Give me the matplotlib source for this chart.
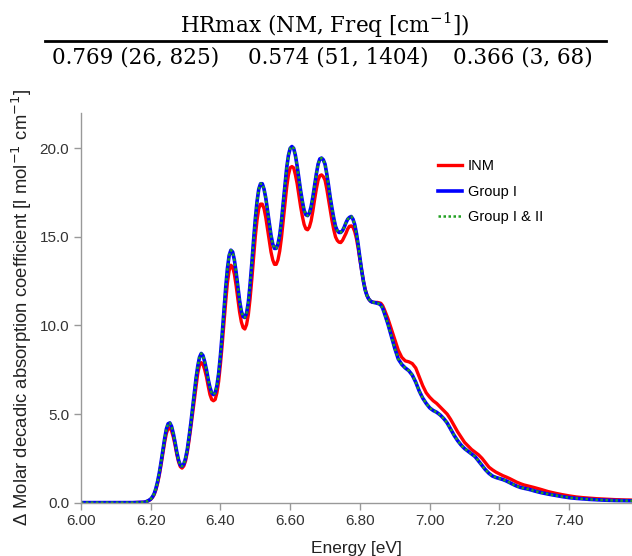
import numpy as np
import matplotlib
matplotlib.use('Agg')
import matplotlib.pyplot as plt
from matplotlib.ticker import FormatStrFormatter

plt.rcParams['font.family'] = ['Liberation Sans', 'DejaVu Sans']

# energy grid (eV), finer where the bands oscillate
energy = [6.00, 6.10, 6.15,
          6.180, 6.185, 6.190, 6.195, 6.200, 6.205, 6.210, 6.215, 6.220, 6.225,
          6.230, 6.235, 6.240, 6.245, 6.250, 6.255, 6.260, 6.265, 6.270, 6.275,
          6.280, 6.285, 6.290, 6.295, 6.300, 6.305, 6.310, 6.315, 6.320, 6.325,
          6.330, 6.335, 6.340, 6.345, 6.350, 6.355, 6.360, 6.365, 6.370, 6.375,
          6.380, 6.385, 6.390, 6.395, 6.400, 6.405, 6.410, 6.415, 6.420, 6.425,
          6.430, 6.435, 6.440, 6.445, 6.450, 6.455, 6.460, 6.465, 6.470, 6.475,
          6.480, 6.485, 6.490, 6.495, 6.500, 6.505, 6.510, 6.515, 6.520, 6.525,
          6.530, 6.535, 6.540, 6.545, 6.550, 6.555, 6.560, 6.565, 6.570, 6.575,
          6.580, 6.585, 6.590, 6.595, 6.600, 6.605, 6.610, 6.615, 6.620, 6.625,
          6.630, 6.635, 6.640, 6.645, 6.650, 6.655, 6.660, 6.665, 6.670, 6.675,
          6.680, 6.685, 6.690, 6.695, 6.700, 6.705, 6.710, 6.715, 6.720, 6.725,
          6.730, 6.735, 6.740, 6.745, 6.750, 6.755, 6.760, 6.765, 6.770, 6.775,
          6.780, 6.785, 6.790, 6.795, 6.800, 6.805, 6.810, 6.815, 6.820, 6.825,
          6.830, 6.835, 6.840, 6.845, 6.850, 6.855, 6.860, 6.865, 6.870,
          6.88, 6.89, 6.90, 6.91, 6.92, 6.93, 6.94, 6.95, 6.96, 6.97, 6.98, 6.99,
          7.00, 7.01, 7.02, 7.03, 7.04, 7.05, 7.06, 7.07, 7.08, 7.09,
          7.10, 7.11, 7.12, 7.13, 7.14, 7.15, 7.16, 7.17, 7.18, 7.19,
          7.20, 7.21, 7.22, 7.23, 7.24, 7.25, 7.26, 7.27, 7.28, 7.29,
          7.30, 7.32, 7.34, 7.36, 7.38, 7.40, 7.42, 7.44, 7.46, 7.48,
          7.50, 7.53, 7.56, 7.59]

inm = [0.0, 0.0, 0.0,
       0.02, 0.035, 0.07, 0.12, 0.18, 0.29, 0.45, 0.72, 1.1, 1.58,
       2.15, 2.78, 3.4, 3.9, 4.2, 4.22, 4.05, 3.7, 3.25, 2.72,
       2.3, 2.03, 1.95, 2.07, 2.35, 2.85, 3.5, 4.22, 5.0, 5.82,
       6.6, 7.3, 7.75, 7.9, 7.8, 7.5, 7.1, 6.58, 6.1, 5.82,
       5.75, 5.82, 6.2, 6.85, 7.8, 8.9, 10.1, 11.3, 12.4, 13.1,
       13.4, 13.3, 12.9, 12.25, 11.5, 10.75, 10.2, 9.88, 9.8, 10.05,
       10.6, 11.5, 12.6, 13.8, 15.0, 15.95, 16.6, 16.85, 16.85, 16.6,
       16.1, 15.45, 14.8, 14.15, 13.7, 13.45, 13.45, 13.7, 14.2, 14.95,
       15.9, 16.9, 17.8, 18.5, 18.9, 18.97, 18.9, 18.5, 18.0, 17.35,
       16.7, 16.15, 15.7, 15.45, 15.4, 15.55, 15.9, 16.45, 17.1, 17.7,
       18.2, 18.45, 18.5, 18.4, 18.2, 17.7, 17.1, 16.5, 15.9, 15.4,
       15.0, 14.8, 14.7, 14.68, 14.8, 15.0, 15.2, 15.45, 15.6, 15.62,
       15.55, 15.3, 14.9, 14.35, 13.7, 13.1, 12.5, 12.05, 11.7, 11.5,
       11.38, 11.32, 11.3, 11.3, 11.3, 11.28, 11.25, 11.12, 10.9,
       10.4, 9.8, 9.2, 8.6, 8.2, 8.0, 7.95, 7.85, 7.6, 7.1, 6.6, 6.2,
       5.95, 5.75, 5.6, 5.4, 5.2, 5.0, 4.7, 4.35, 4.0, 3.7,
       3.4, 3.2, 3.0, 2.85, 2.7, 2.5, 2.25, 2.0, 1.85, 1.72,
       1.62, 1.52, 1.44, 1.35, 1.25, 1.15, 1.07, 1.0, 0.95, 0.9,
       0.85, 0.74, 0.62, 0.53, 0.45, 0.38, 0.32, 0.28, 0.25, 0.22,
       0.2, 0.17, 0.15, 0.14]

group1 = [0.0, 0.0, 0.0,
          0.02, 0.04, 0.08, 0.13, 0.2, 0.32, 0.5, 0.8, 1.2, 1.7,
          2.3, 2.95, 3.6, 4.15, 4.45, 4.5, 4.3, 3.9, 3.4, 2.85,
          2.4, 2.12, 2.05, 2.18, 2.5, 3.0, 3.7, 4.45, 5.3, 6.15,
          7.0, 7.7, 8.2, 8.42, 8.3, 7.95, 7.5, 6.95, 6.5, 6.2,
          6.1, 6.2, 6.6, 7.3, 8.3, 9.5, 10.8, 12.1, 13.2, 13.95,
          14.25, 14.15, 13.7, 13.0, 12.2, 11.4, 10.8, 10.5, 10.45, 10.7,
          11.3, 12.3, 13.5, 14.8, 16.0, 17.0, 17.7, 18.0, 18.0, 17.7,
          17.2, 16.5, 15.8, 15.1, 14.6, 14.35, 14.35, 14.6, 15.1, 15.9,
          16.9, 17.95, 18.9, 19.6, 20.0, 20.1, 20.0, 19.6, 19.0, 18.3,
          17.6, 17.0, 16.5, 16.25, 16.2, 16.35, 16.7, 17.25, 17.9, 18.55,
          19.1, 19.4, 19.45, 19.35, 19.1, 18.55, 17.9, 17.2, 16.6, 16.05,
          15.6, 15.35, 15.25, 15.25, 15.35, 15.55, 15.8, 16.0, 16.1, 16.15,
          16.0, 15.7, 15.2, 14.55, 13.8, 13.1, 12.5, 12.0, 11.7, 11.5,
          11.38, 11.32, 11.3, 11.28, 11.25, 11.22, 11.15, 10.98, 10.7,
          10.1, 9.4, 8.7, 8.1, 7.8, 7.6, 7.45, 7.2, 6.8, 6.3, 5.9, 5.6,
          5.35, 5.2, 5.1, 4.95, 4.75, 4.5, 4.15, 3.8, 3.5, 3.25,
          3.05, 2.9, 2.75, 2.6, 2.35, 2.1, 1.85, 1.65, 1.5, 1.42,
          1.36, 1.3, 1.22, 1.12, 1.02, 0.93, 0.86, 0.81, 0.77, 0.72,
          0.66, 0.56, 0.48, 0.41, 0.34, 0.28, 0.24, 0.21, 0.18, 0.16,
          0.14, 0.12, 0.11, 0.10]

# Group I & II lies on top of Group I
group12 = list(group1)

header = 'HRmax (NM, Freq [cm$^{-1}$])'
hr_values = ['0.769 (26, 825)', '0.574 (51, 1404)', '0.366 (3, 68)']

fig = plt.figure(figsize=(6.32, 5.56), dpi=100)
ax = fig.add_axes([0.128, 0.096, 0.872, 0.701])

ax.plot(energy, inm, color='#ff0000', lw=2.4, label='INM')
ax.plot(energy, group1, color='#0000ff', lw=2.6, label='Group I')
ax.plot(energy, group12, color='#22a022', lw=1.8, ls=(0, (1, 1)), label='Group I & II')

ax.set_xlim(6.0, 7.58)
ax.set_ylim(0, 22)
ax.set_xticks([6.0, 6.2, 6.4, 6.6, 6.8, 7.0, 7.2, 7.4])
ax.set_yticks([0, 5, 10, 15, 20])
ax.xaxis.set_major_formatter(FormatStrFormatter('%.2f'))
ax.yaxis.set_major_formatter(FormatStrFormatter('%.1f'))

for s in ['top', 'right']:
    ax.spines[s].set_visible(False)
for s in ['left', 'bottom']:
    ax.spines[s].set_color('#999999')
    ax.spines[s].set_linewidth(1.0)
ax.tick_params(direction='out', length=5, width=1, color='#999999',
               labelsize=11, labelcolor='#333333')

ax.set_xlabel('Energy [eV]', fontsize=12.5, color='#222222', labelpad=9)
ax.set_ylabel('Δ Molar decadic absorption coefficient [l mol$^{-1}$ cm$^{-1}$]',
              fontsize=13.3, color='#222222', labelpad=4)

leg = ax.legend(loc='upper left', bbox_to_anchor=(0.625, 0.915), frameon=False,
                fontsize=10.5, handlelength=1.6, handletextpad=0.4, labelspacing=0.8)

# HRmax table above the plot
fig.text(0.514, 0.955, header, ha='center', va='center', fontsize=15.5,
         family='DejaVu Serif', math_fontfamily='dejavuserif')
fig.add_artist(plt.Line2D([0.071, 0.959], [0.927, 0.927], color='black', lw=2.0))
for xc, txt in zip([0.215, 0.535, 0.828], hr_values):
    fig.text(xc, 0.897, txt, ha='center', va='center', fontsize=15.5,
             family='DejaVu Serif')

fig.savefig('out.png', dpi=100)
